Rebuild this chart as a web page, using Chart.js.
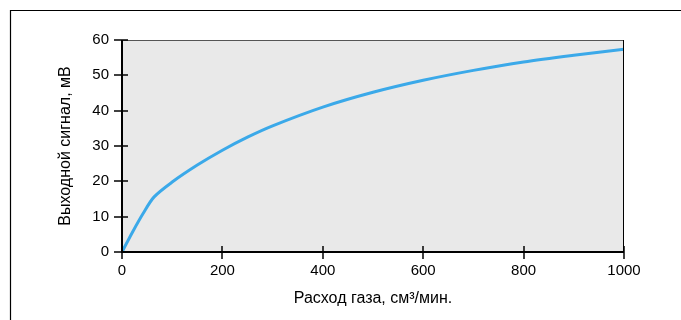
<!DOCTYPE html>
<html><head><meta charset="utf-8">
<script src="https://cdn.jsdelivr.net/npm/chart.js@4/dist/chart.umd.min.js"></script>
<style>html,body{margin:0;padding:0;background:#fff}#wrap{width:681px;height:320px;position:relative}</style>
</head><body><div id="wrap"><canvas id="c" width="681" height="320"></canvas></div>
<script>
const flowValues = [0, 20, 42, 64, 100, 150, 200, 250, 300, 400, 500, 600, 700, 800, 900, 1000];
const signalValues = [0, 5.4, 10.9, 15.6, 19.8, 24.6, 28.8, 32.5, 35.7, 41.0, 45.2, 48.6, 51.4, 53.8, 55.7, 57.4];
const xTickValues = [0, 200, 400, 600, 800, 1000];
const yTickValues = [0, 10, 20, 30, 40, 50, 60];
const xTitle = 'Расход газа, см³/мин.';
const yTitle = 'Выходной сигнал, мВ';

const FONT = "'Liberation Sans', Arial, sans-serif";

const decor = {
  id: 'decor',
  beforeDraw(chart) {
    const ctx = chart.ctx;
    ctx.save();
    ctx.strokeStyle = '#000';
    ctx.lineWidth = 1.2;
    ctx.beginPath();
    ctx.moveTo(10.5, 320); ctx.lineTo(10.5, 10.5); ctx.lineTo(681, 10.5);
    ctx.stroke();
    const a = chart.chartArea;
    ctx.fillStyle = '#e9e9e9';
    ctx.fillRect(a.left, a.top, a.right - a.left, a.bottom - a.top);
    ctx.restore();
  },
  afterDraw(chart) {
    const ctx = chart.ctx, a = chart.chartArea;
    const xs = chart.scales.x, ys = chart.scales.y;
    ctx.save();
    ctx.lineWidth = 1;
    ctx.strokeStyle = '#555';
    ctx.beginPath(); ctx.moveTo(a.left, a.top + 0.5); ctx.lineTo(a.right, a.top + 0.5); ctx.stroke();
    ctx.strokeStyle = '#000';
    ctx.beginPath(); ctx.moveTo(a.right - 0.5, a.top); ctx.lineTo(a.right - 0.5, a.bottom); ctx.stroke();
    ctx.lineWidth = 2;
    ctx.beginPath(); ctx.moveTo(a.left, a.top); ctx.lineTo(a.left, a.bottom); ctx.lineTo(a.right, a.bottom); ctx.stroke();
    ctx.lineWidth = 1.5;
    yTickValues.forEach(v => {
      const y = Math.round(ys.getPixelForValue(v));
      ctx.beginPath(); ctx.moveTo(a.left - 8, y); ctx.lineTo(a.left + 6, y); ctx.stroke();
    });
    xTickValues.forEach(v => {
      const x = Math.round(xs.getPixelForValue(v));
      ctx.beginPath(); ctx.moveTo(x, a.bottom - 6); ctx.lineTo(x, a.bottom + 7); ctx.stroke();
    });
    ctx.restore();
  }
};

new Chart(document.getElementById('c'), {
  type: 'line',
  data: {
    datasets: [{
      data: flowValues.map((x, i) => ({x: x, y: signalValues[i]})),
      borderColor: '#3ba9e9',
      borderWidth: 3,
      pointRadius: 0,
      fill: false,
      tension: 0.3
    }]
  },
  options: {
    responsive: false,
    animation: false,
    layout: {padding: {left: 0, top: 40, right: 57, bottom: 0}},
    plugins: {legend: {display: false}, tooltip: {enabled: false}},
    scales: {
      x: {
        type: 'linear', min: 0, max: 1000,
        afterBuildTicks: s => { s.ticks = xTickValues.map(v => ({value: v})); },
        afterFit: s => { s.height = 68; },
        grid: {display: true, drawOnChartArea: false, drawTicks: true, tickLength: 7, color: 'transparent'},
        border: {display: false},
        ticks: {color: '#000', font: {family: FONT, size: 15}, padding: 3, maxRotation: 0, callback: v => String(v)},
        title: {display: true, text: xTitle, color: '#000', font: {family: FONT, size: 16}, padding: {top: 0, bottom: 12}}
      },
      y: {
        type: 'linear', min: 0, max: 60,
        afterBuildTicks: s => { s.ticks = yTickValues.map(v => ({value: v})); },
        afterFit: s => { s.width = 122; },
        grid: {display: true, drawOnChartArea: false, drawTicks: true, tickLength: 8, color: 'transparent'},
        border: {display: false},
        ticks: {color: '#000', font: {family: FONT, size: 15}, padding: 5, callback: v => String(v)},
        title: {display: true, text: yTitle, color: '#000', font: {family: FONT, size: 16}, padding: {top: 56, bottom: 0}}
      }
    }
  },
  plugins: [decor]
});
</script></body></html>
